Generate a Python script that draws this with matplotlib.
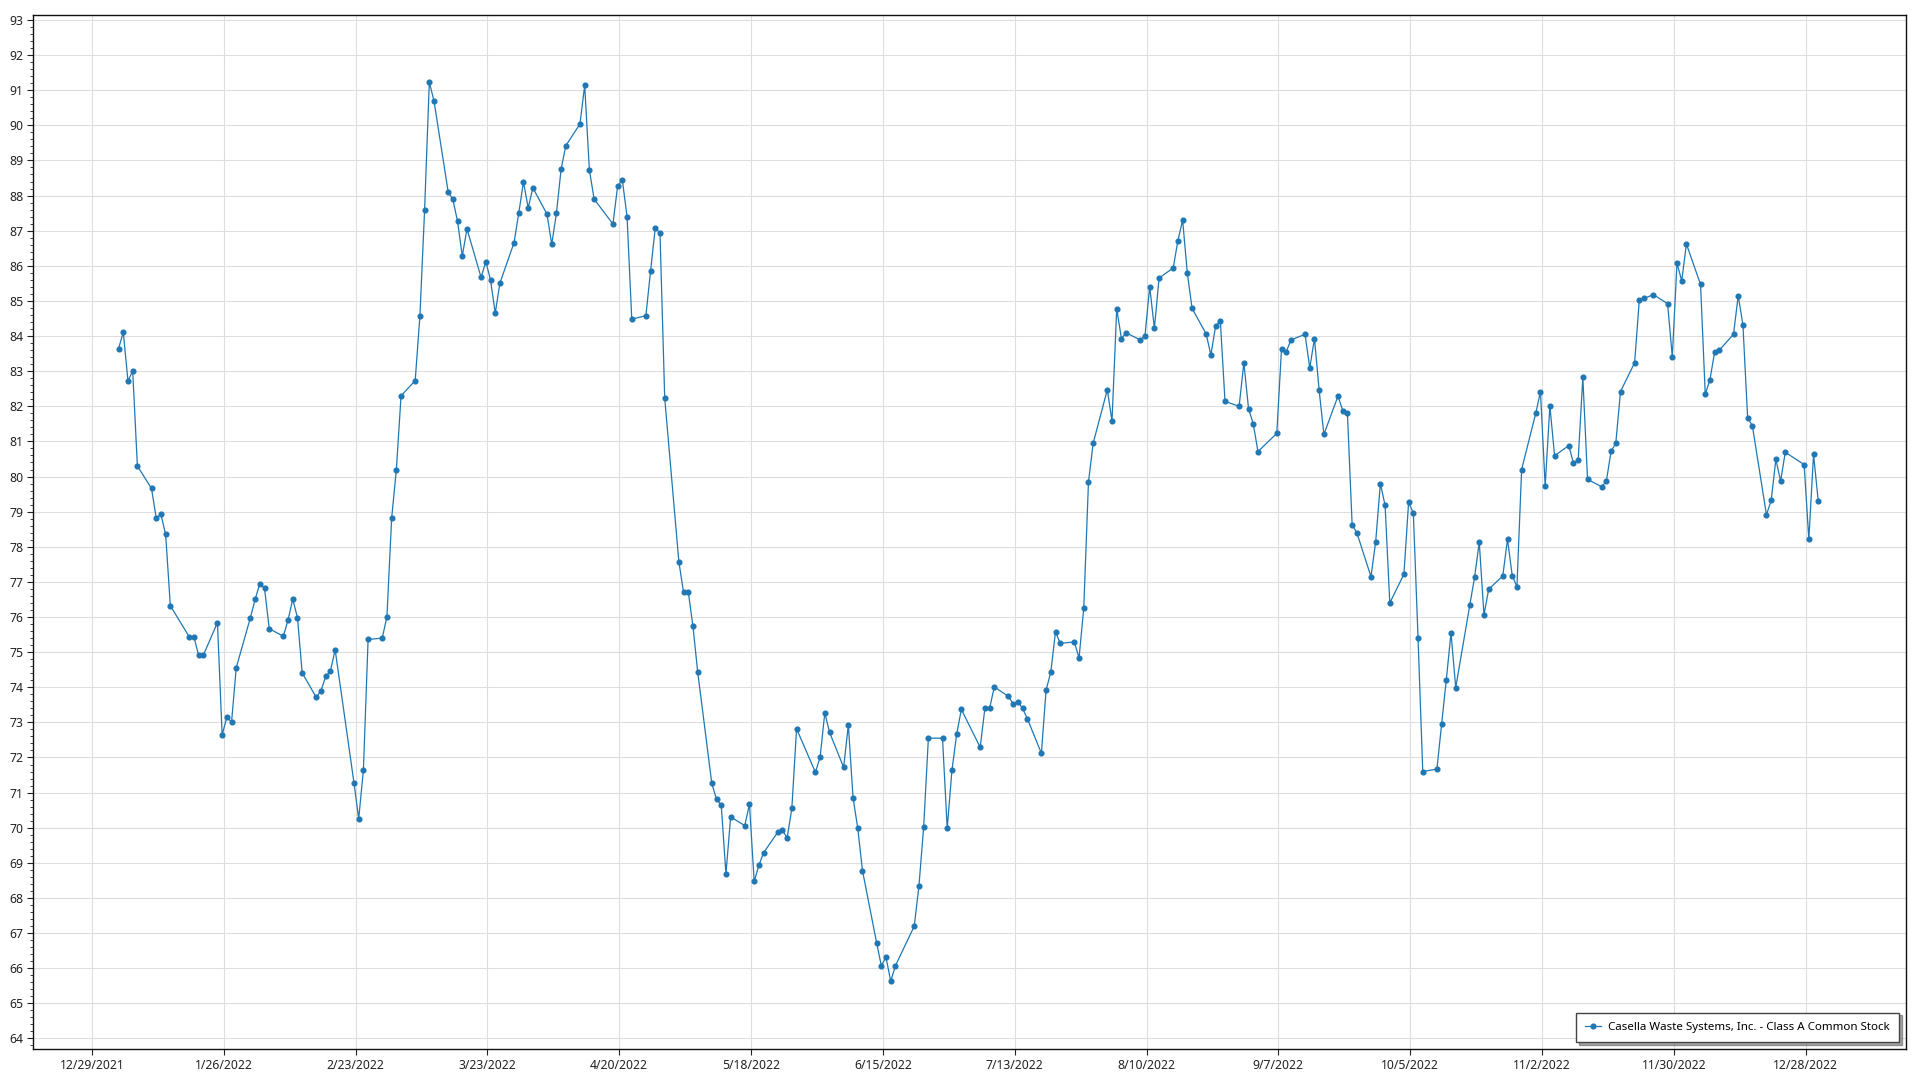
import pandas as pd
import matplotlib
matplotlib.use("Agg")
import matplotlib.pyplot as plt
import matplotlib.dates as mdates
from matplotlib.ticker import MultipleLocator, FuncFormatter

plt.rcParams['font.family'] = ['Noto Sans', 'DejaVu Sans']

# trading days of 2022 (NYSE holidays removed), stamped at the 16:00 close
holidays = ["2022-01-17", "2022-02-21", "2022-04-15", "2022-05-30", "2022-06-20",
            "2022-07-04", "2022-09-05", "2022-11-24", "2022-12-26"]
dates = pd.bdate_range("2022-01-03", "2022-12-30", freq="C", holidays=holidays)
dates = dates + pd.Timedelta(hours=16)

# closing prices, month by month
jan = [83.64, 84.11, 82.72, 83.01, 80.30, 79.66, 78.82, 78.92, 78.35, 76.32,
       75.44, 75.44, 74.91, 74.91, 75.84, 72.64, 73.15, 73.01, 74.56, 75.98]
feb = [76.50, 76.95, 76.82, 75.67, 75.45, 75.92, 76.51, 75.98, 74.41,
       73.71, 73.90, 74.31, 74.46, 75.07, 71.28, 70.25, 71.64, 75.36, 75.40]
mar = [76.01, 78.81, 80.19, 82.30, 82.73, 84.56, 87.59, 91.23, 90.69,
       88.11, 87.89, 87.27, 86.28, 87.05, 85.67, 86.12, 85.60, 84.65, 85.51,
       86.66, 87.50, 88.39, 87.65]
apr = [88.22, 87.47, 86.61, 87.50, 88.76, 89.42, 90.04, 91.14, 88.73, 87.90,
       87.19, 88.27, 88.44, 87.40, 84.48, 84.58, 85.86, 87.09, 86.92, 82.23]
may = [77.58, 76.70, 76.72, 75.73, 74.44, 71.26, 70.81, 70.65, 68.68, 70.31,
       70.06, 70.67, 68.47, 68.93, 69.29, 69.87, 69.93, 69.71, 70.55, 72.82,
       71.58]
jun = [72.01, 73.27, 72.72, 71.72, 72.93, 70.85, 69.99, 68.78,
       66.73, 66.07, 66.31, 65.63, 66.07, 67.20, 68.35, 70.03, 72.55,
       72.55, 69.98, 71.63, 72.66]
jul = [73.37, 72.29, 73.40, 73.40, 74.01, 73.74, 73.53, 73.59, 73.40, 73.11,
       72.12, 73.92, 74.43, 75.58, 75.25, 75.29, 74.83, 76.26, 79.84, 80.95]
aug = [82.47, 81.58, 84.78, 83.93, 84.09, 83.89, 84.00, 85.41, 84.22, 85.65,
       85.94, 86.72, 87.30, 85.79, 84.79, 84.06, 83.46, 84.28, 84.44, 82.14,
       82.00, 83.24, 81.93]
sep = [81.50, 80.71, 81.23, 83.63, 83.55, 83.89, 84.05, 83.09, 83.93, 82.45,
       81.20, 82.29, 81.88, 81.80, 78.63, 78.40, 77.15, 78.14, 79.80, 79.18,
       76.40]
oct_ = [77.22, 79.27, 78.96, 75.40, 71.60, 71.67, 72.94, 74.21, 75.55, 73.99,
        76.35, 77.13, 78.13, 76.06, 76.79, 77.17, 78.22, 77.18, 76.86, 80.20,
        81.80]
nov = [82.42, 79.73, 82.01, 80.59, 80.88, 80.39, 80.46, 82.82, 79.92,
       79.71, 79.87, 80.72, 80.95, 82.42, 83.24, 85.04, 85.07, 85.18,
       84.92, 83.41, 86.08]
dec = [85.57, 86.62, 85.47, 82.34, 82.76, 83.55, 83.60, 84.05, 85.15, 84.32,
       81.67, 81.45, 78.91, 79.32, 80.49, 79.87, 80.69, 80.34, 78.21, 80.63,
       79.30]
prices = jan + feb + mar + apr + may + jun + jul + aug + sep + oct_ + nov + dec

series_name = "Casella Waste Systems, Inc. - Class A Common Stock"
tick_dates = pd.date_range("2021-12-29", periods=14, freq="28D")

fig = plt.figure(figsize=(19.2, 10.8), dpi=100)
ax = fig.add_axes([0.0172, 0.0287, 0.9755, 0.9577])

ax.plot(dates, prices, color="#1f77b4", lw=0.9, marker="o", ms=3.4,
        label=series_name)

ax.set_xlim(pd.Timestamp("2021-12-29") - pd.Timedelta(days=12.5),
            pd.Timestamp("2021-12-29") + pd.Timedelta(days=385.3))
ax.set_ylim(63.7, 93.15)

ax.set_xticks(tick_dates)
ax.xaxis.set_major_formatter(FuncFormatter(
    lambda v, p: (lambda d: f"{d.month}/{d.day}/{d.year}")(mdates.num2date(v))))
ax.yaxis.set_major_locator(MultipleLocator(1))
ax.yaxis.set_minor_locator(MultipleLocator(0.2))

ax.grid(True, which="major", color="#dedede", lw=0.8)
ax.set_axisbelow(True)
ax.tick_params(axis="both", which="major", labelsize=8.8, length=4,
               color="#222222", labelcolor="#222222", pad=3)
ax.tick_params(axis="y", which="minor", length=2, color="#222222")
for s in ax.spines.values():
    s.set_color("#111111")
    s.set_linewidth(1)

leg = ax.legend(loc="lower right", fontsize=8.3, shadow=True, fancybox=False,
                edgecolor="#444444", framealpha=1, borderaxespad=0.6,
                borderpad=0.8, handlelength=1.4, handletextpad=0.6)
leg.get_frame().set_linewidth(1)

fig.savefig("out.png", dpi=100)
